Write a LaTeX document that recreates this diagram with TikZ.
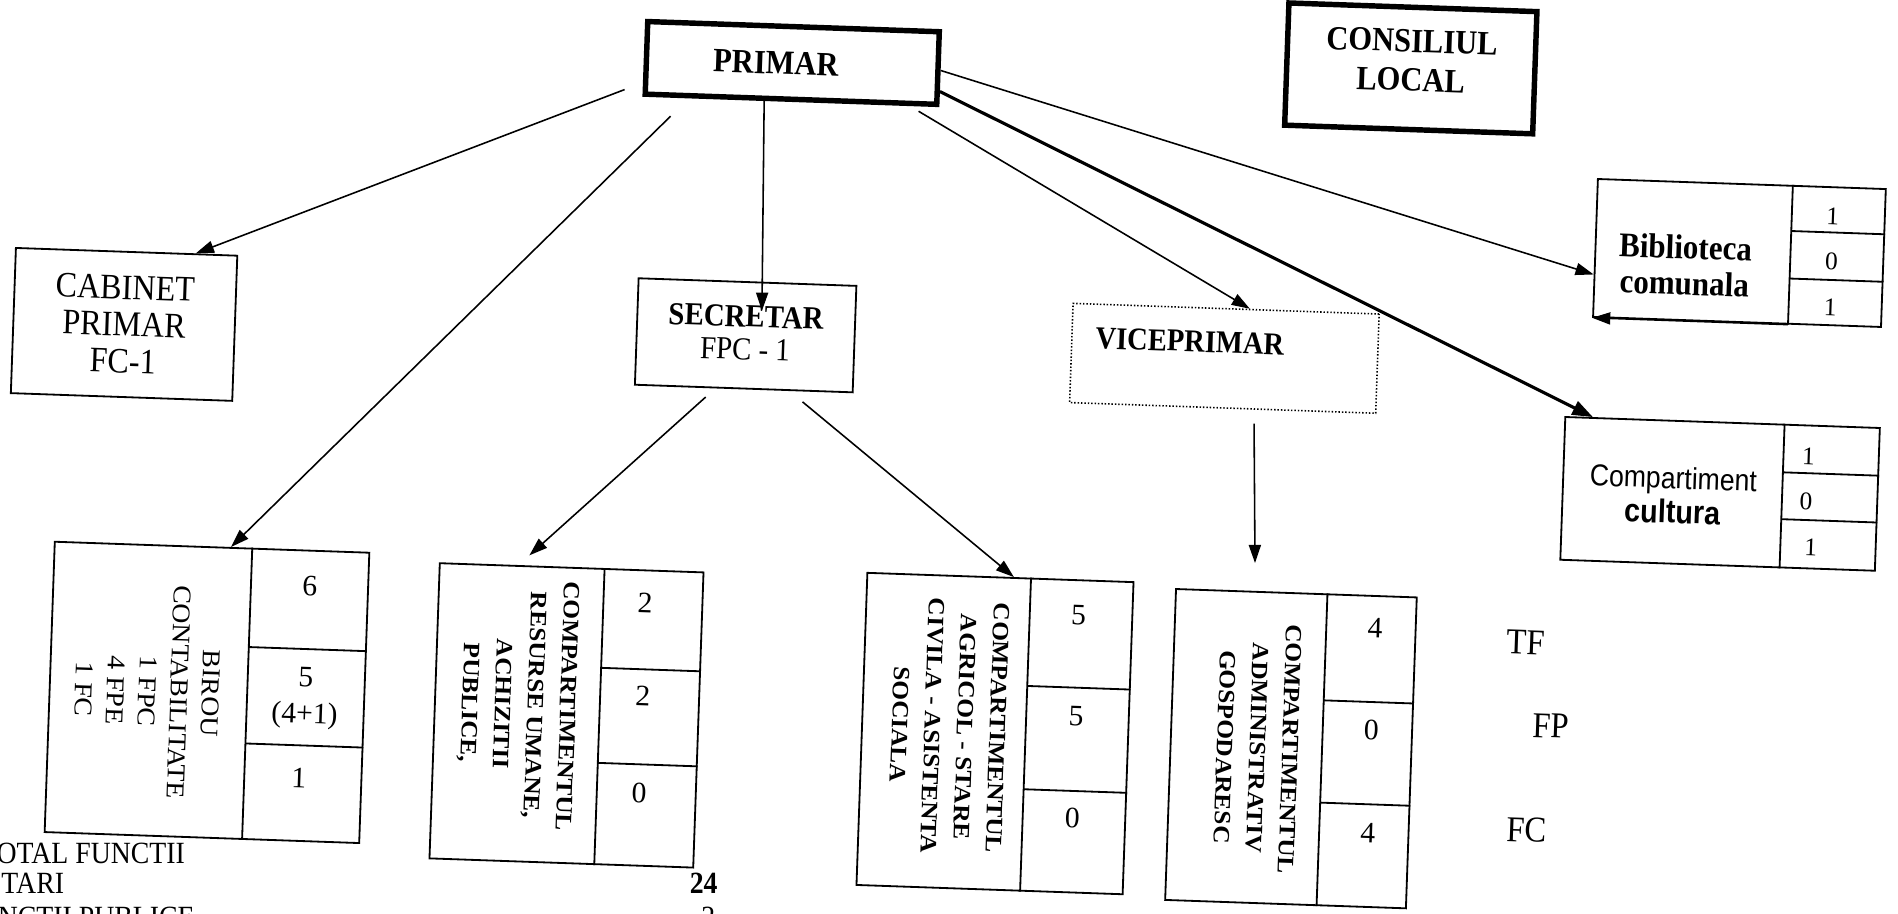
\documentclass[tikz,border=0pt]{standalone}
\usepackage{fontspec}
\setmainfont{Liberation Serif}[FakeStretch=0.9]
\newfontfamily\rotserif{Liberation Serif}
\newfontfamily\compsans{Liberation Sans}[FakeStretch=0.88]
\usepackage{graphicx}
\usetikzlibrary{calc,arrows.meta}
\newcommand\vlines[1]{\scalebox{1}[0.92]{\begin{tabular}{@{}c@{}}#1\end{tabular}}}
\newcommand\splitcol[4]{%
  \draw[boxline] ($(#1.north west)!#2!(#1.north east)$) coordinate (#1-dt)
     -- ($(#1.south west)!#2!(#1.south east)$) coordinate (#1-db);
  \draw[boxline] ($(#1-dt)!#3!(#1-db)$) -- ($(#1.north east)!#3!(#1.south east)$);
  \draw[boxline] ($(#1-dt)!#4!(#1-db)$) -- ($(#1.north east)!#4!(#1.south east)$);
}
\tikzset{
  boxline/.style={line width=1.5pt},
  box/.style={draw, line width=1.5pt, inner sep=0pt, align=center, rotate=-2},
  headbox/.style={draw, line width=4.5pt, inner sep=0pt, align=center, rotate=-2},
  vicebox/.style={draw, line width=1.3pt, dash pattern=on 1.2pt off 1.6pt, inner sep=0pt, rotate=-2},
  txt/.style={inner sep=0pt, align=center, rotate=-2},
  vtxt/.style={inner sep=0pt, rotate=-92},
  num/.style={inner sep=0pt, align=center, rotate=-2, font=\rotserif\fontsize{24.5}{30}\selectfont},
  smallnum/.style={num, font=\rotserif\fontsize{21}{26}\selectfont},
  arr/.style={line width=1.3pt, -{Triangle[length=15pt,width=10pt]}},
  thickarr/.style={line width=2.6pt, -{Triangle[length=17pt,width=12pt]}},
  side/.style={inner sep=0pt, rotate=-2, anchor=base west, font=\fontsize{30}{30}\selectfont},
  foot/.style={inner sep=0pt, font=\fontsize{25.5}{25.5}\selectfont}
}
\begin{document}
\begin{tikzpicture}[x=1pt,y=-1pt]
\useasboundingbox (0,0) rectangle (1568,755);
\fill[white] (0,0) rectangle (1568,755);
\clip (0,0) rectangle (1568,755);

% ---------- top row
\node[headbox, minimum width=241pt, minimum height=60pt] (pri) at (654.5,52) {};
\node[txt, font=\bfseries\fontsize{28}{28}\selectfont] (prit) at (641,52) {PRIMAR};
\node[headbox, minimum width=205pt, minimum height=101pt] (con) at (1165.5,56.5) {};
\node[txt, font=\bfseries\fontsize{28}{32}\selectfont] (cont) at (1166,50) {CONSILIUL\\LOCAL};

% ---------- middle row
\node[box, minimum width=183pt, minimum height=120pt, font=\fontsize{29.5}{30.5}\selectfont] (cab) at (102.5,268) {CABINET\\PRIMAR\\FC-1};
\node[box, minimum width=180pt, minimum height=88pt] (sec) at (616,277) {};
\node[txt, font=\fontsize{26.5}{27}\selectfont] (sect) at (616,275) {\textbf{SECRETAR}\\FPC - 1};
\node[vicebox, minimum width=253pt, minimum height=82pt] (vic) at (1011.5,296) {};
\node[txt, font=\bfseries\fontsize{26.2}{26.2}\selectfont] (vict) at (983,282) {VICEPRIMAR};

% Biblioteca comunala
\node[box, minimum width=238pt, minimum height=114pt] (bib) at (1437,209) {};
\splitcol{bib}{0.676}{0.33}{0.67}
\node[txt, font=\bfseries\fontsize{28.5}{30}\selectfont] (bibt) at (1392,219) {Biblioteca\\comunala};
\node[smallnum] (bib1) at (1514,179) {1};
\node[smallnum] (bib2) at (1513,216) {0};
\node[smallnum] (bib3) at (1512,254) {1};

% Compartiment cultura
\node[box, minimum width=260pt, minimum height=118pt] (cul) at (1421,408) {};
\splitcol{cul}{0.696}{0.336}{0.66}
\node[txt, font=\compsans\fontsize{25}{28.5}\selectfont] (cult) at (1382,409) {Compartiment\\{\bfseries\fontsize{27}{28.5}\selectfont cultura}};
\node[smallnum] (cul1) at (1494,377) {1};
\node[smallnum] (cul2) at (1492,414) {0};
\node[smallnum] (cul3) at (1496,452) {1};

% ---------- bottom row
\node[box, minimum width=260pt, minimum height=240pt] (bir) at (171,572) {};
\splitcol{bir}{0.627}{0.34}{0.67}
\node[vtxt] (birt) at (120,571) {\rotserif\fontsize{23}{28.5}\selectfont\vlines{BIROU\\CONTABILITATE\\1 FPC\\4 FPE\\1 FC}};
\node[num] (bir1) at (256,484) {6};
\node[num] (bir2) at (252,577) {5\\(4+1)};
\node[num] (bir3) at (247,643) {1};

\node[box, minimum width=218pt, minimum height=244pt] (res) at (468,591) {};
\splitcol{res}{0.624}{0.336}{0.656}
\node[vtxt] (rest) at (428,582) {\rotserif\bfseries\fontsize{21}{29.3}\selectfont\vlines{COMPARTIMENTUL\\RESURSE UMANE,\\ACHIZITII\\PUBLICE,}};
\node[num] (res1) at (533,498) {2};
\node[num] (res2) at (531,575) {2};
\node[num] (res3) at (528,655) {0};

\node[box, minimum width=220pt, minimum height=258pt] (agr) at (822,606) {};
\splitcol{agr}{0.614}{0.345}{0.674}
\node[vtxt] (agrt) at (783,600) {\rotserif\bfseries\fontsize{21}{29.3}\selectfont\vlines{COMPARTIMENTUL\\AGRICOL - STARE\\CIVILA - ASISTENTA\\SOCIALA}};
\node[num] (agr1) at (891,508) {5};
\node[num] (agr2) at (889,592) {5};
\node[num] (agr3) at (886,676) {0};

\node[box, minimum width=199pt, minimum height=257pt] (adm) at (1066.5,618.5) {};
\splitcol{adm}{0.628}{0.342}{0.669}
\node[vtxt] (admt) at (1038,618) {\rotserif\bfseries\fontsize{21}{29.3}\selectfont\vlines{COMPARTIMENTUL\\ADMINISTRATIV\\GOSPODARESC}};
\node[num] (adm1) at (1136,519) {4};
\node[num] (adm2) at (1133,603) {0};
\node[num] (adm3) at (1130,688) {4};

% side labels
\node[side] (tf) at (1244,540) {TF};
\node[side] (fp) at (1266,609) {FP};
\node[side] (fc) at (1244,695) {FC};

% footer (cut by the page edge)
\node[foot, anchor=base west] (f1) at (-3,713) {OTAL FUNCTII};
\node[foot, anchor=base west] (f2) at (1,738) {TARI};
\node[foot, anchor=base west] (f3) at (-2,766) {NCTII PUBLICE};
\node[foot, anchor=base east, font=\bfseries\fontsize{25.5}{25.5}\selectfont] (f4) at (593,738) {24};
\node[foot, anchor=base east] (f5) at (591,766) {2};

% ---------- connectors
\coordinate (sCab) at (516,74);
\coordinate (sBir) at (554,96);
\coordinate (sRes) at (583,328);
\coordinate (sAgr) at (663,332);
\coordinate (sAdm) at (1036,350);

\draw[arr] (sCab) -- ($(cab.north west)!0.81!(cab.north east)$);
\draw[arr] (sBir) -- ($(bir.north west)!0.56!(bir.north east)$);
\draw[arr, shorten >=-24pt] ($(pri.south west)!0.41!(pri.south east)$) -- ($(sec.north west)!0.567!(sec.north east)$);
\draw[arr, shorten >=12pt] (sRes) -- ($(res.north west)!0.30!(res.north east)$);
\draw[arr] (sAgr) -- ($(agr.north west)!0.55!(agr.north east)$);
\draw[arr] ($(pri.south west)!0.93!(pri.south east)+(0,4)$) -- ($(vic.north west)!0.577!(vic.north east)$);
\draw[thickarr] ($(pri.north east)!0.8!(pri.south east)$) -- ($(cul.north west)!0.09!(cul.north east)$);
\draw[arr] ($(pri.north east)!0.53!(pri.south east)$) -- ($(bib.north west)!0.69!(bib.south west)$);
\draw[arr] (bib-db) -- (bib.south west);
\draw[arr, shorten >=23pt] (sAdm) -- ($(adm.north west)!0.33!(adm.north east)$);
\end{tikzpicture}
\end{document}
